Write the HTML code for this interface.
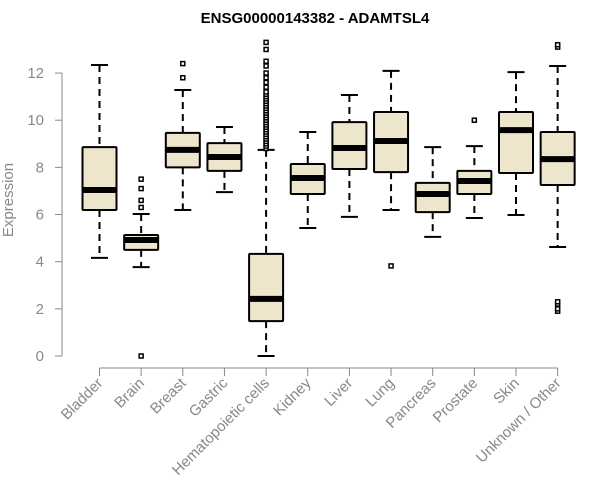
<!DOCTYPE html>
<html><head><meta charset="utf-8"><style>body{margin:0;background:#fff}svg{display:block}</style></head>
<body>
<svg id="chart" width="600" height="500" xmlns="http://www.w3.org/2000/svg" font-family="Liberation Sans, sans-serif">
<text x="315" y="23" text-anchor="middle" font-weight="bold" font-size="15">ENSG00000143382 - ADAMTSL4</text>
<text transform="translate(13,200) rotate(-90)" text-anchor="middle" font-size="15" fill="#888">Expression</text>
<g id="plot"></g>
</svg>
<script>
const categories=["Bladder","Brain","Breast","Gastric","Hematopoietic cells","Kidney","Liver","Lung","Pancreas","Prostate","Skin","Unknown / Other"];
const whiskerLow=[4.16,3.77,6.19,6.95,0,5.43,5.9,6.19,5.05,5.85,5.98,4.62];
const q1=[6.19,4.5,8.0,7.85,1.48,6.87,7.93,7.8,6.1,6.87,7.76,7.25];
const medians=[7.04,4.92,8.74,8.44,2.42,7.55,8.82,9.12,6.87,7.42,9.58,8.35];
const q3=[8.86,5.13,9.46,9.03,4.33,8.14,9.92,10.35,7.34,7.85,10.35,9.5];
const whiskerHigh=[12.34,6.02,11.28,9.71,8.74,9.5,11.07,12.09,8.86,8.9,12.04,12.3];
const outliers=[[],[0,6.3,6.6,7.1,7.5],[11.8,12.4],[],
[8.8,8.9,9.0,9.1,9.2,9.3,9.4,9.5,9.6,9.7,9.8,9.9,10.0,10.1,10.2,10.3,10.4,10.5,10.6,10.7,10.8,10.9,11.0,11.1,11.2,11.4,11.6,11.8,12.0,12.3,12.5,13.0,13.3],
[],[],[3.82],[],[10.0],[],[1.9,2.0,2.2,2.3,13.1,13.2]];
const yTicks=[0,2,4,6,8,10,12];
const NS="http://www.w3.org/2000/svg";
const g=document.getElementById('plot');
const y=v=>356-v*23.58;
const x=i=>99.5+i*41.65;
function el(t,a){const e=document.createElementNS(NS,t);for(const k in a)e.setAttribute(k,a[k]);g.appendChild(e);return e;}
let ax=el('line',{x1:62,y1:y(0),x2:62,y2:y(12),stroke:'#888','stroke-width':1});


yTicks.forEach(t=>{
 let l=el('line',{x1:55,x2:62,y1:y(t),y2:y(t),stroke:'#888'});
 
 
 let tx=el('text',{x:44,y:y(t)+5,'text-anchor':'end','font-size':15,fill:'#888'});
 tx.textContent=t;
 
 
});
let xa=el('line',{x1:x(0),x2:x(11),y1:368,y2:368,stroke:'#888'});


categories.forEach((c,i)=>{
 const cx=x(i);
 let tk=el('line',{x1:cx,x2:cx,y1:368,y2:376,stroke:'#888'});
 
 
 let tx=el('text',{transform:`translate(${cx+4},${384}) rotate(-45)`,'text-anchor':'end','font-size':15,fill:'#888'});
 tx.textContent=c;
 
 
 const w=17;
 let wl=el('line',{x1:cx,x2:cx,y1:y(whiskerHigh[i]),y2:y(q3[i]),stroke:'#000','stroke-width':2,'stroke-dasharray':'7,5'});
 
 
 let wl2=el('line',{x1:cx,x2:cx,y1:y(q1[i]),y2:y(whiskerLow[i]),stroke:'#000','stroke-width':2,'stroke-dasharray':'7,5'});
 
 
 [whiskerHigh[i],whiskerLow[i]].forEach(v=>{
  let cap=el('line',{x1:cx-8.5,x2:cx+8.5,y1:y(v),y2:y(v),stroke:'#000','stroke-width':2});
  
  
 });
 let b=el('rect',{x:cx-w,y:y(q3[i]),width:2*w,height:y(q1[i])-y(q3[i]),fill:'#ede5cc',stroke:'#000','stroke-width':2,rx:1});
 
 
 let m=el('line',{x1:cx-w,x2:cx+w,y1:y(medians[i]),y2:y(medians[i]),stroke:'#000','stroke-width':6});
 
 
 outliers[i].forEach(v=>{
  let o=el('rect',{x:cx-2,y:y(v)-2,width:4,height:4,fill:'#fff',stroke:'#000','stroke-width':1.5});
  
  
 });
});
</script>
</body></html>
